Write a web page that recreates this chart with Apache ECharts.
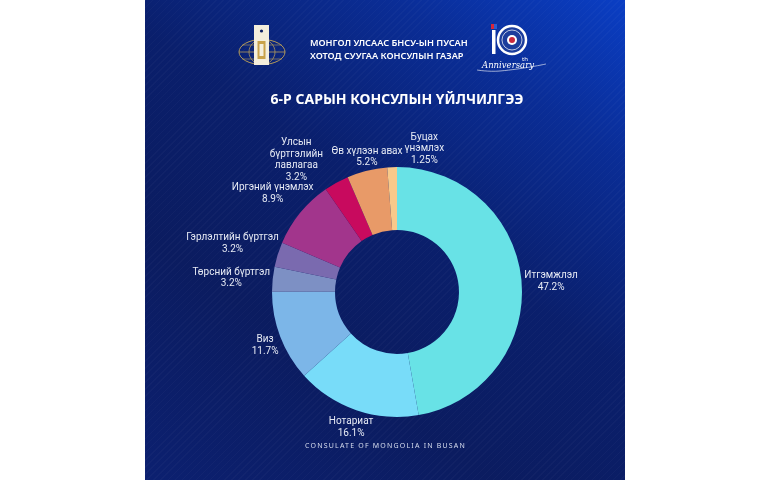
<!DOCTYPE html>
<html>
<head>
<meta charset="utf-8">
<script src="https://cdn.jsdelivr.net/npm/echarts@6/dist/echarts.min.js"></script>
<style>
  html, body { margin: 0; padding: 0; background: #fff; }
  .wrap { position: relative; width: 770px; height: 480px; }
  .panel {
    position: absolute; left: 145px; top: 0; width: 480px; height: 480px;
    background:
      repeating-linear-gradient(135deg, rgba(255,255,255,0.025) 0 1px, rgba(0,0,0,0) 1px 5px),
      linear-gradient(215deg, #0a3ec4 0%, #0a2d96 20%, #0a1f6c 45%, #0b1c60 70%, #0c2070 100%);
  }
  #chart { position: absolute; left: 0; top: 0; width: 770px; height: 480px; }
  .footer {
    position: absolute; left: 305px; top: 441px; white-space: nowrap;
    font-family: 'Noto Sans', sans-serif; font-size: 7px; letter-spacing: 1.2px;
    color: #d6dcee;
  }
</style>
</head>
<body>
<div class="wrap">
  <div class="panel"></div>
  <div id="chart"></div>
  <div class="footer">CONSULATE OF MONGOLIA IN BUSAN</div>
</div>
<script>
// 6-р сарын консулын үйлчилгээ (хувиар)
const categories = [
  'Итгэмжлэл', 'Нотариат', 'Виз', 'Төрсний бүртгэл', 'Гэрлэлтийн бүртгэл',
  'Иргэний үнэмлэх', 'Улсын\nбүртгэлийн\nлавлагаа', 'Өв хүлээн авах', 'Буцах\nүнэмлэх'
]
const values = [47.2, 16.1, 11.7, 3.2, 3.2, 8.9, 3.2, 5.2, 1.25]
const colors = [
  '#68e2e6', '#78dcf9', '#7cb6e8', '#7d90c4', '#7a6aaf',
  '#a2358c', '#c80a5e', '#e89a68', '#f8c98a'
]

const cx = 397, cy = 292, rIn = 62, rOut = 125
const labelGap = 3
const labelDy = 3
// small shifts so the crowded top labels don't collide
const labelNudge = {1: [0, -1], 6: [-27, -2], 7: [4, 0], 8: [33, -1]}

const total = values.reduce((a, b) => a + b, 0)

const chart = echarts.init(document.getElementById('chart'))

const option = {
  backgroundColor: 'transparent',
  graphic: [
    // left emblem: globe + plaque
    {type: 'ellipse', shape: {cx: 262, cy: 52, rx: 23, ry: 12.5}, style: {fill: 'none', stroke: '#b39a5a', lineWidth: 1}},
    {type: 'ellipse', shape: {cx: 262, cy: 52, rx: 13, ry: 12.5}, style: {fill: 'none', stroke: '#b39a5a', lineWidth: 0.8}},
    {type: 'line', shape: {x1: 239, y1: 52, x2: 285, y2: 52}, style: {stroke: '#b39a5a', lineWidth: 0.8}},
    {type: 'line', shape: {x1: 242, y1: 45, x2: 282, y2: 45}, style: {stroke: '#b39a5a', lineWidth: 0.6}},
    {type: 'line', shape: {x1: 242, y1: 59, x2: 282, y2: 59}, style: {stroke: '#b39a5a', lineWidth: 0.6}},
    {type: 'rect', shape: {x: 254, y: 25, width: 15, height: 40}, style: {fill: '#f4eedc'}},
    {type: 'circle', shape: {cx: 261.5, cy: 31, r: 1.6}, style: {fill: '#0b1d60'}},
    {type: 'rect', shape: {x: 257.5, y: 41, width: 8, height: 18}, style: {fill: '#c9a24a'}},
    {type: 'rect', shape: {x: 259.5, y: 44, width: 4, height: 12}, style: {fill: '#f4eedc'}},
    // header text
    {type: 'text', left: 310, top: 39, style: {text: 'МОНГОЛ УЛСААС БНСУ-ЫН ПУСАН', fill: '#ffffff', font: '600 9.2px "Noto Sans"'}},
    {type: 'text', left: 310, top: 52, style: {text: 'ХОТОД СУУГАА КОНСУЛЫН ГАЗАР', fill: '#ffffff', font: '600 9.2px "Noto Sans"'}},
    // right emblem: 10th anniversary
    {type: 'rect', shape: {x: 491, y: 24, width: 3, height: 5}, style: {fill: '#d8263a'}},
    {type: 'rect', shape: {x: 494, y: 24, width: 3, height: 5}, style: {fill: '#2a5cd0'}},
    {type: 'rect', shape: {x: 492, y: 30, width: 3.5, height: 24}, style: {fill: '#ffffff'}},
    {type: 'circle', shape: {cx: 512, cy: 40, r: 14}, style: {fill: '#1c3d9c', stroke: '#ffffff', lineWidth: 2.5}},
    {type: 'circle', shape: {cx: 512, cy: 40, r: 10}, style: {fill: 'none', stroke: '#ffffff', lineWidth: 0.7}},
    {type: 'circle', shape: {cx: 512, cy: 40, r: 5}, style: {fill: '#ffffff'}},
    {type: 'circle', shape: {cx: 512, cy: 40, r: 3}, style: {fill: '#c8283c'}},
    {type: 'text', left: 522, top: 56, style: {text: 'th', fill: '#ffffff', font: '6px "Noto Sans"'}},
    {type: 'text', left: 482, top: 61, style: {text: 'Anniversary', fill: '#ffffff', font: 'italic 8.5px "DejaVu Serif"'}},
    {type: 'polyline', shape: {points: [[477, 70], [500, 71], [546, 64]], smooth: 0.5}, style: {stroke: '#ffffff', lineWidth: 0.6, fill: 'none'}},
    // title
    {type: 'text', x: 397, y: 100, style: {
      text: '6-Р САРЫН КОНСУЛЫН ҮЙЛЧИЛГЭЭ', fill: '#ffffff',
      font: 'bold 14px "Noto Sans"', align: 'center', verticalAlign: 'middle'
    }}
  ],
  series: [{
    type: 'pie',
    center: [cx, cy],
    radius: [rIn, rOut],
    startAngle: 90,
    clockwise: true,
    avoidLabelOverlap: false,
    silent: true,
    itemStyle: {borderWidth: 0},
    label: {
      show: true,
      position: 'outside',
      formatter: p => p.name + '\n' + p.value + '%',
      color: '#e6eaf4',
      fontSize: 10,
      lineHeight: 11.5,
      fontFamily: 'Roboto',
      align: 'center'
    },
    labelLine: {show: false},
    labelLayout: params => {
      const i = params.dataIndex
      let start = 0
      for (let k = 0; k < i; k++) start += values[k]
      const a = (start + values[i] / 2) / total * Math.PI * 2
      const ux = Math.sin(a), uy = -Math.cos(a)
      const hw = params.labelRect.width / 2, hh = params.labelRect.height / 2
      const sup = Math.sqrt((hw * ux) ** 2 + (hh * uy) ** 2)
      const d = rOut + labelGap + sup
      const n = labelNudge[i] || [0, 0]
      return {
        x: cx + ux * d + n[0],
        y: cy + uy * d + n[1] + labelDy,
        align: 'center', verticalAlign: 'middle'
      }
    },
    data: categories.map((name, i) => ({
      name: name,
      value: values[i],
      itemStyle: {color: colors[i]}
    }))
  }]
}

chart.setOption(option)
</script>
</body>
</html>
